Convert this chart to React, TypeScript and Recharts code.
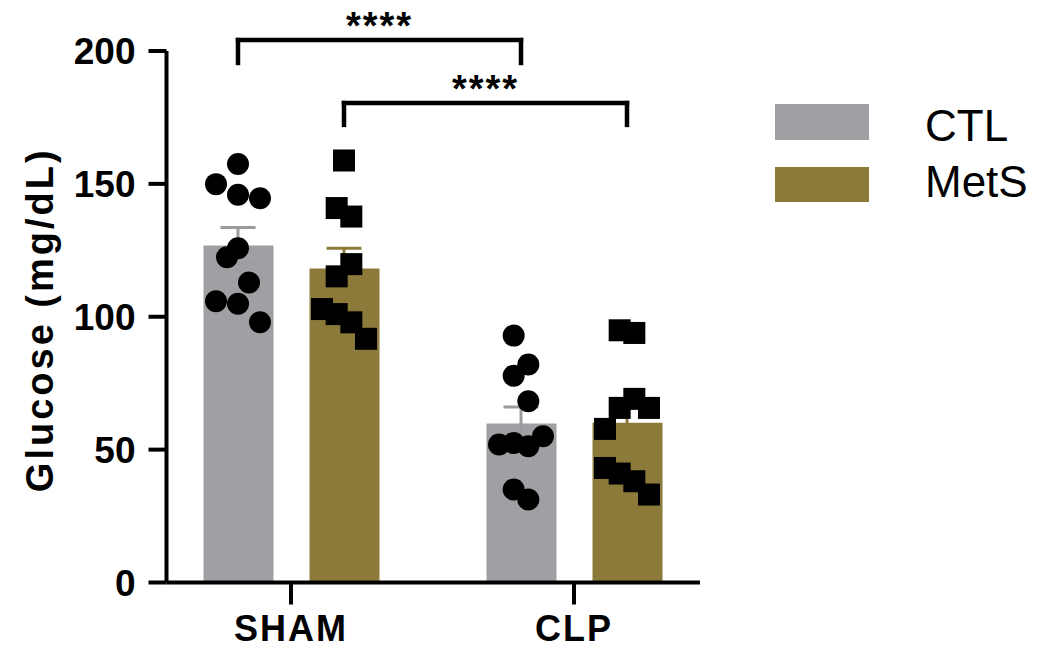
import React from 'react';
import {
  ComposedChart,
  Bar,
  Scatter,
  XAxis,
  YAxis,
  ErrorBar,
  ReferenceLine,
  Legend,
  Label,
} from 'recharts';

// ---------------- data ----------------
const CATEGORIES = ['SHAM', 'CLP'];
const SERIES_NAMES = ['CTL', 'MetS'];
const SERIES_COLORS = ['#a09fa4', '#8b7a3a'];

const CTL_MEAN = [126.8, 59.8];
const CTL_SEM = [6.8, 6.2];
const METS_MEAN = [118.2, 60.1];
const METS_SEM = [7.6, 7.0];

// individual animals
const SHAM_CTL = [157.5, 149.9, 145.9, 144.6, 125.8, 122.4, 112.9, 105.8, 104.9, 97.9];
const SHAM_METS = [158.8, 140.9, 137.7, 119.8, 115.2, 102.9, 101.0, 97.9, 91.7];
const CLP_CTL = [92.9, 82.0, 77.8, 68.2, 51.9, 52.5, 51.3, 55.0, 35.0, 31.2];
const CLP_METS = [94.9, 93.9, 69.1, 65.7, 65.7, 57.8, 43.1, 41.0, 38.1, 33.1];

// horizontal beeswarm slots of each point
const SHAM_CTL_SLOT = [0, -3, 0, 3, 0, -1.5, 1.5, -3, 0, 3];
const SHAM_METS_SLOT = [0, -1, 1, 1, -1, -3, -1, 1, 3];
const CLP_CTL_SLOT = [-1, 1, -1, 1, -3, -1, 1, 3, -1, 1];
const CLP_METS_SLOT = [-1, 1, 1, -1, 3, -3, -3, -1, 1, 3];

const Y_TICKS = [0, 50, 100, 150, 200];

// significance brackets: [category, series] -> [category, series]
const SIG_FROM = [[0, 0], [0, 1]];
const SIG_TO = [[1, 0], [1, 1]];
const SIG_LOW = [195.5, 172.2];
const SIG_HIGH = [204.1, 180.4];
const SIG_LABEL = ['****', '****'];

// ---------------- layout ----------------
const FONT = 'Liberation Sans, Arial, Helvetica, sans-serif';
const W = 1021;
const H = 652;
const MARGIN = { top: 51, right: 329, bottom: 8, left: 0 };
const YAXIS_W = 158.5;
const XAXIS_H = 61.5;
const PAD = { left: -17, right: -15.5 };
const BAR_SIZE = 70;
const BAR_GAP = 36;
const PLOT_W = W - MARGIN.left - MARGIN.right - YAXIS_W;
const BAND = (PLOT_W - PAD.left - PAD.right) / CATEGORIES.length;
const GROUP_OFF = (BAR_SIZE + BAR_GAP) / 2 / BAND;
const SLOT = 7.33 / BAND;

const seriesX = (cat: number, ser: number) => cat + (ser === 0 ? -GROUP_OFF : GROUP_OFF);

const barData = CATEGORIES.map((c, i) => ({ group: c, ctl: CTL_MEAN[i], mets: METS_MEAN[i] }));

const pts = (cat: number, ser: number, vals: number[], slots: number[]) =>
  vals.map((v, i) => ({ x: seriesX(cat, ser) + slots[i] * SLOT, y: v }));

const ctlPoints = [...pts(0, 0, SHAM_CTL, SHAM_CTL_SLOT), ...pts(1, 0, CLP_CTL, CLP_CTL_SLOT)];
const metsPoints = [...pts(0, 1, SHAM_METS, SHAM_METS_SLOT), ...pts(1, 1, CLP_METS, CLP_METS_SLOT)];

const ctlErr = CATEGORIES.map((_, i) => ({ x: seriesX(i, 0), y: CTL_MEAN[i], err: CTL_SEM[i] }));
const metsErr = CATEGORIES.map((_, i) => ({ x: seriesX(i, 1), y: METS_MEAN[i], err: METS_SEM[i] }));

const CircleShape = (p: any) => <circle cx={p.cx} cy={p.cy} r={11} fill="#000" />;
const SquareShape = (p: any) => <rect x={p.cx - 11} y={p.cy - 11} width={22} height={22} fill="#000" />;
const NoShape = () => <g />;

const YLabel = (props: any) => {
  const vb = props.viewBox || { x: 0, y: 0, width: 0, height: 0 };
  const cx = vb.x + 45;
  const cy = vb.y + vb.height / 2 + 3;
  return (
    <text
      x={cx}
      y={cy}
      transform={`rotate(-90, ${cx}, ${cy})`}
      textAnchor="middle"
      fontSize={38}
      fontWeight={700}
      letterSpacing={3}
      fontFamily={FONT}
      fill="#000"
    >
      Glucose (mg/dL)
    </text>
  );
};

const LegendContent = () => (
  <svg width={262} height={110} style={{ display: 'block', overflow: 'visible' }}>
    {SERIES_NAMES.map((n, i) => (
      <g key={n}>
        <rect x={0} y={i === 0 ? 0 : 63} width={94} height={i === 0 ? 36 : 35} fill={SERIES_COLORS[i]} />
        <text x={150} y={i === 0 ? 37 : 93} fontSize={44} fontFamily={FONT} fill="#000">
          {n}
        </text>
      </g>
    ))}
  </svg>
);

const axisStroke = { stroke: '#000', strokeWidth: 4 };

export default function App() {
  const brackets = SIG_FROM.map((f, k) => {
    const x1 = seriesX(f[0], f[1]);
    const x2 = seriesX(SIG_TO[k][0], SIG_TO[k][1]);
    return { x1, x2, lo: SIG_LOW[k], hi: SIG_HIGH[k], label: SIG_LABEL[k] };
  });

  return (
    <div style={{ position: 'relative', top: -8, width: W, height: 636 }}>
      <ComposedChart width={W} height={H} data={barData} margin={MARGIN} barGap={BAR_GAP}>
        <Bar dataKey="ctl" name="CTL" fill={SERIES_COLORS[0]} barSize={BAR_SIZE} isAnimationActive={false} />
        <Bar dataKey="mets" name="MetS" fill={SERIES_COLORS[1]} barSize={BAR_SIZE} isAnimationActive={false} />

        <Scatter xAxisId="num" data={ctlPoints} dataKey="y" shape={CircleShape} isAnimationActive={false} legendType="none" />
        <Scatter xAxisId="num" data={metsPoints} dataKey="y" shape={SquareShape} isAnimationActive={false} legendType="none" />

        <Scatter xAxisId="num" data={ctlErr} dataKey="y" shape={NoShape} isAnimationActive={false} legendType="none">
          <ErrorBar dataKey="err" direction="y" width={17.5} strokeWidth={3} stroke="#9c9ba0" isAnimationActive={false} />
        </Scatter>
        <Scatter xAxisId="num" data={metsErr} dataKey="y" shape={NoShape} isAnimationActive={false} legendType="none">
          <ErrorBar dataKey="err" direction="y" width={17.5} strokeWidth={3} stroke={SERIES_COLORS[1]} isAnimationActive={false} />
        </Scatter>

        <XAxis
          dataKey="group"
          type="category"
          height={XAXIS_H}
          padding={PAD}
          tickSize={22}
          tickMargin={10.5}
          interval={0}
          axisLine={axisStroke}
          tickLine={axisStroke}
          tick={{ fontSize: 36, fontWeight: 700, fill: '#000', fontFamily: FONT, letterSpacing: 2 }}
        />
        <XAxis
          xAxisId="num"
          dataKey="x"
          type="number"
          domain={[-0.5, 1.5]}
          allowDataOverflow
          padding={PAD}
          hide
        />
        <YAxis
          domain={[0, 200]}
          ticks={Y_TICKS}
          interval={0}
          allowDataOverflow
          width={YAXIS_W}
          tickSize={18}
          tickMargin={13}
          axisLine={axisStroke}
          tickLine={axisStroke}
          tick={{ fontSize: 37, fontWeight: 700, fill: '#000', fontFamily: FONT }}
        >
          <Label content={YLabel} />
        </YAxis>

        {brackets.map((b, k) => (
          <React.Fragment key={k}>
            <ReferenceLine
              xAxisId="num"
              segment={[{ x: b.x1, y: b.lo }, { x: b.x1, y: b.hi }]}
              stroke="#000"
              strokeWidth={4.5}
              strokeLinecap="square"
              ifOverflow="visible"
            />
            <ReferenceLine
              xAxisId="num"
              segment={[{ x: b.x1, y: b.hi }, { x: b.x2, y: b.hi }]}
              stroke="#000"
              strokeWidth={4.5}
              strokeLinecap="square"
              ifOverflow="visible"
              label={{
                value: b.label,
                position: 'top',
                offset: 1,
                fontSize: 38,
                fontWeight: 700,
                fill: '#000',
                fontFamily: FONT,
                letterSpacing: 2,
              }}
            />
            <ReferenceLine
              xAxisId="num"
              segment={[{ x: b.x2, y: b.hi }, { x: b.x2, y: b.lo }]}
              stroke="#000"
              strokeWidth={4.5}
              strokeLinecap="square"
              ifOverflow="visible"
            />
          </React.Fragment>
        ))}

        <Legend
          layout="vertical"
          align="center"
          verticalAlign="middle"
          content={LegendContent}
          wrapperStyle={{ left: 767, top: 104, width: 262, height: 110 }}
        />
      </ComposedChart>
    </div>
  );
}
